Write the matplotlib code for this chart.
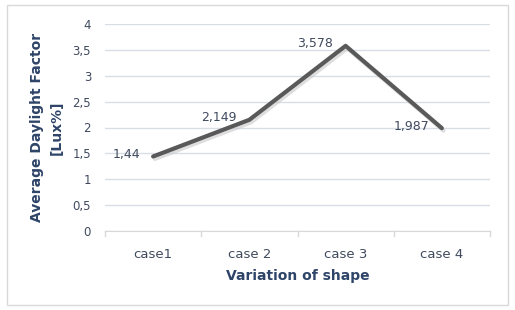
import matplotlib
matplotlib.use("Agg")
import matplotlib.pyplot as plt
from matplotlib.patches import Rectangle
import matplotlib.patheffects as pe

categories = ["case1", "case 2", "case 3", "case 4"]
values = [1.44, 2.149, 3.578, 1.987]
value_labels = ["1,44", "2,149", "3,578", "1,987"]
yticks = [0, 0.5, 1, 1.5, 2, 2.5, 3, 3.5, 4]
ytick_labels = ["0", "0,5", "1", "1,5", "2", "2,5", "3", "3,5", "4"]

plt.rcParams['font.family'] = ['DejaVu Sans']
W, H = 515, 310
fig = plt.figure(figsize=(W/100, H/100), dpi=100)
fig.patches.append(Rectangle((7/W, 5/H), 501/W, 300/H, transform=fig.transFigure,
                             fill=False, edgecolor='#d9d9d9', linewidth=1))
ax = fig.add_axes([105/W, 1-231/H, 385/W, 207/H])

txt = '#404a5e'
x = list(range(len(categories)))
ax.plot(x, values, color='#595959', linewidth=3, solid_capstyle='round',
        path_effects=[pe.SimpleLineShadow(offset=(1.2, -1.8), shadow_color='#c8c8c8', alpha=0.6), pe.Normal()],
        zorder=3)
for xi, v, lab in zip(x, values, value_labels):
    ax.annotate(lab, (xi, v), xytext=(-9, 1.5), textcoords='offset points',
                ha='right', va='center', fontsize=9, color=txt, zorder=4)

ax.set_xlim(-0.5, len(categories) - 0.5)
ax.set_ylim(0, 4)
ax.set_yticks(yticks)
ax.set_yticklabels(ytick_labels, fontsize=8.5, color=txt)
ax.set_xticks(x)
ax.set_xticklabels(categories, fontsize=9.5, color=txt)
ax.tick_params(axis='y', length=0, pad=10)
ax.tick_params(axis='x', length=0, pad=12)
# category boundary ticks
for b in [-0.5, 0.5, 1.5, 2.5, 3.5]:
    ax.plot([b, b], [0, -0.1], color='#d9d9d9', linewidth=1, clip_on=False)
ax.grid(axis='y', color='#d9dee6', linewidth=1)
ax.set_axisbelow(True)
for s in ['top', 'right', 'left']:
    ax.spines[s].set_visible(False)
ax.spines['bottom'].set_color('#d9d9d9')

ax.set_ylabel("Average Daylight Factor\n[Lux%]", fontsize=10, fontweight='bold',
              color='#2e4468', labelpad=6, linespacing=1.6)
ax.set_xlabel("Variation of shape", fontsize=10, fontweight='bold', color='#2e4468', labelpad=6)

fig.savefig("out.png", dpi=100)
